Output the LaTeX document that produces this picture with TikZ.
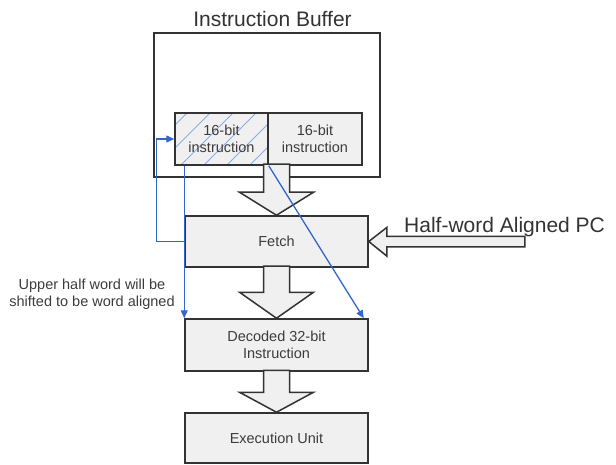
\documentclass[tikz,border=0pt]{standalone}
\usepackage{fontspec}
\setmainfont{Liberation Sans}
\usetikzlibrary{arrows.meta,calc}
\definecolor{boxline}{RGB}{51,51,51}
\definecolor{boxfill}{RGB}{240,240,240}
\definecolor{txt}{RGB}{60,60,60}
\definecolor{linkblue}{RGB}{51,102,204}
\definecolor{hatchblue}{RGB}{140,172,228}
\tikzset{
  unit/.style={draw=boxline, line width=1.5pt, fill=boxfill, rectangle,
    inner sep=0pt, text=txt, align=center,
    font=\fontsize{14.5}{17}\selectfont},
  blockarr/.style={draw=boxline, line width=1.5pt, fill=boxfill, line join=miter},
  link/.style={draw=linkblue, line width=1.3pt,
    -{Triangle[length=8pt,width=7pt]}},
  bigtext/.style={text=boxline, font=\fontsize{21}{24}\selectfont, inner sep=0pt},
  smalltext/.style={text=txt, font=\fontsize{14.5}{17}\selectfont, inner sep=0pt, align=center}
}
\begin{document}
\begin{tikzpicture}[x=1pt,y=-1pt]
\useasboundingbox (0,0) rectangle (616,465);

% instruction buffer and its two half-word slots
\node[draw=boxline, line width=1.5pt, fill=white, minimum width=226pt, minimum height=144pt, inner sep=0pt]
  (buf) at (267,105) {};
\node[bigtext, anchor=base] (buftitle) at (272.5,27) {Instruction Buffer};
\node[unit, minimum width=93pt, minimum height=52pt] (lo) at (221.5,139) {};
\begin{scope}
  \clip (lo.south west) rectangle (lo.north east);
  \foreach \x in {112,135,...,280}
    \draw[hatchblue, line width=0.8pt] (\x,165) -- ++(52,-52);
\end{scope}
\node[unit, fill=none, minimum width=93pt, minimum height=52pt] at (221.5,139) {16-bit\\instruction};
\node[unit, minimum width=94pt, minimum height=52pt] (hi) at (315,139) {16-bit\\instruction};

% pipeline stages
\node[unit, minimum width=183pt, minimum height=51pt] (fetch) at (276.5,241.5) {Fetch};
\node[unit, minimum width=183pt, minimum height=52pt] (dec) at (276.5,345) {Decoded 32-bit\\Instruction};
\node[unit, minimum width=183pt, minimum height=50pt] (exec) at (276.5,438) {Execution Unit};

% wide flow arrows between stages
\draw[blockarr] (fetch.north) -- ++(-37,-23) -- ++(24,0) -- ++(0,-28) -- ++(26,0)
  -- ++(0,28) -- ++(24,0) -- cycle;
\draw[blockarr] (dec.north) -- ++(-37,-26) -- ++(24,0) -- ++(0,-26) -- ++(26,0)
  -- ++(0,26) -- ++(24,0) -- cycle;
\draw[blockarr] (exec.north) -- ++(-37,-20) -- ++(24,0) -- ++(0,-22) -- ++(26,0)
  -- ++(0,22) -- ++(24,0) -- cycle;

% program counter input
\draw[blockarr] (fetch.east) -- ++(18,-14) -- ++(0,9) -- ++(138,0) -- ++(0,10.5)
  -- ++(-138,0) -- ++(0,9) -- cycle;
\node[bigtext, anchor=base west] (pclabel) at (404,233) {Half-word Aligned PC};

% half-word routing
\draw[link] (lo.south west -| dec.north west) -- (dec.north west);
\draw[link] (fetch.west) -- ++(-28,0) |- (lo.west);
\draw[link] (lo.south east) -- ([xshift=-5pt]dec.north east);
\node[smalltext] (note) at (92,294) {Upper half word will be\\shifted to be word aligned};
\end{tikzpicture}
\end{document}
